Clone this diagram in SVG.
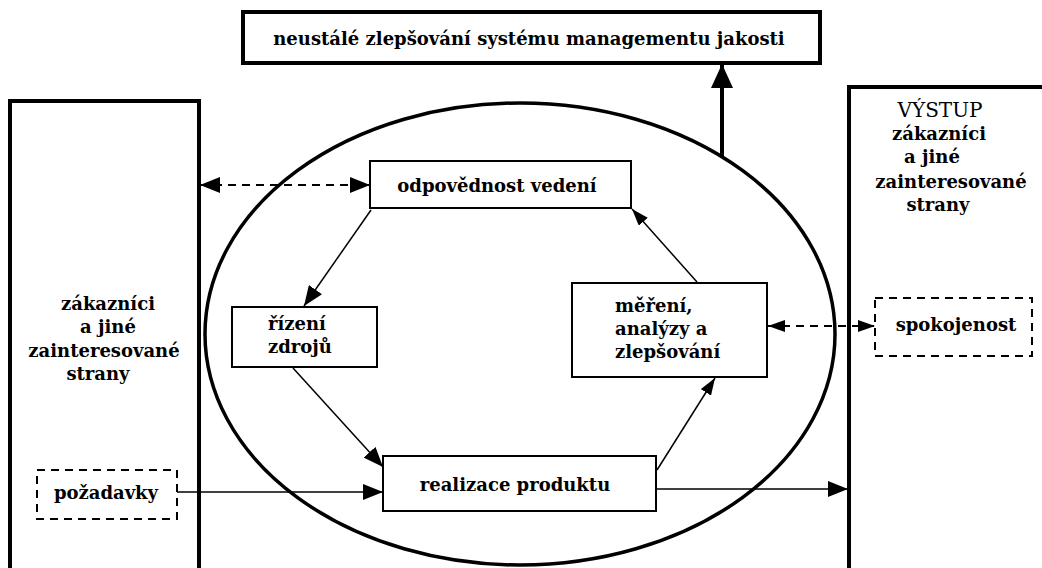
<svg xmlns="http://www.w3.org/2000/svg" width="1042" height="568" viewBox="0 0 1042 568">
<style>
  .t { font-family: "DejaVu Serif", "Liberation Serif", serif; font-weight: bold; font-size: 18px; fill: #000; }
  .c { text-anchor: middle; }
  .box { fill: #fff; stroke: #000; stroke-width: 2; }
  .thick { fill: #fff; stroke: #000; stroke-width: 4; }
  .dbox { fill: #fff; stroke: #000; stroke-width: 2; stroke-dasharray: 8 6; }
  .ln { fill: none; stroke: #000; stroke-width: 1.5; }
  .dl { fill: none; stroke: #000; stroke-width: 2; stroke-dasharray: 8 6; }
</style>
<defs>
  <marker id="ah" markerUnits="userSpaceOnUse" markerWidth="20" markerHeight="16" refX="20" refY="8" orient="auto-start-reverse" viewBox="0 0 20 16">
    <path d="M0,0 L20,8 L0,16 z" fill="#000"/>
  </marker>
  <marker id="ahs" markerUnits="userSpaceOnUse" markerWidth="17" markerHeight="12" refX="17" refY="6" orient="auto-start-reverse" viewBox="0 0 17 12">
    <path d="M0,0 L17,6 L0,12 z" fill="#000"/>
  </marker>
  <marker id="ahb" markerUnits="userSpaceOnUse" markerWidth="24" markerHeight="22" refX="24" refY="11" orient="auto" viewBox="0 0 24 22">
    <path d="M0,0 L24,11 L0,22 z" fill="#000"/>
  </marker>
</defs>
<rect width="1042" height="568" fill="#fff"/>

<g id="left-party">
  <rect class="thick" x="10" y="101" width="189" height="480"/>
  <text class="t c" x="108" y="310">zákazníci</text>
  <text class="t c" x="108" y="333">a jiné</text>
  <text class="t c" x="104" y="357">zainteresované</text>
  <text class="t c" x="98" y="380">strany</text>
</g>

<g id="right-party">
  <rect class="thick" x="849" y="87" width="210" height="500"/>
  <text class="t c" x="940" y="117" style="font-weight:normal;font-size:20px">VÝSTUP</text>
  <text class="t c" x="939" y="140">zákazníci</text>
  <text class="t c" x="932" y="163">a jiné</text>
  <text class="t c" x="951" y="188">zainteresované</text>
  <text class="t c" x="938" y="211">strany</text>
</g>

<g id="ellipse">
  <ellipse cx="520" cy="334" rx="315" ry="231" fill="none" stroke="#000" stroke-width="3.5"/>
</g>

<g id="top-box">
  <rect class="thick" x="243" y="12" width="577" height="51"/>
  <text class="t c" x="529" y="45">neustálé zlepšování systému managementu jakosti</text>
</g>

<g id="odpovednost">
  <rect class="box" x="370" y="161" width="261" height="47"/>
  <text class="t c" x="497" y="192">odpovědnost vedení</text>
</g>

<g id="rizeni">
  <rect class="box" x="232" y="307" width="145" height="60"/>
  <text class="t" x="268" y="330">řízení</text>
  <text class="t" x="268" y="353">zdrojů</text>
</g>

<g id="realizace">
  <rect class="box" x="383" y="456" width="273" height="55"/>
  <text class="t c" x="515" y="491">realizace produktu</text>
</g>

<g id="mereni">
  <rect class="box" x="572" y="283" width="195" height="94"/>
  <text class="t" x="615" y="312">měření,</text>
  <text class="t" x="615" y="335">analýzy a</text>
  <text class="t" x="615" y="358">zlepšování</text>
</g>

<g id="pozadavky">
  <rect class="dbox" x="37" y="470" width="140" height="49"/>
  <text class="t c" x="106" y="499">požadavky</text>
</g>

<g id="spokojenost">
  <rect class="dbox" x="875" y="298" width="157" height="58"/>
  <text class="t c" x="956" y="331">spokojenost</text>
</g>

<g id="connectors">
  <line x1="722" y1="157" x2="722" y2="64" stroke="#000" stroke-width="4" marker-end="url(#ahb)"/>
  <line class="dl" x1="200" y1="185" x2="370" y2="185" marker-start="url(#ah)" marker-end="url(#ah)"/>
  <line class="ln" x1="371" y1="210" x2="304" y2="306" marker-end="url(#ah)"/>
  <line class="ln" x1="293" y1="368" x2="383" y2="467" marker-end="url(#ah)"/>
  <line class="ln" x1="177" y1="492" x2="383" y2="492" marker-end="url(#ah)"/>
  <line class="ln" x1="657" y1="470" x2="715" y2="378" marker-end="url(#ahs)"/>
  <line class="ln" x1="697" y1="282" x2="632" y2="209" marker-end="url(#ahs)"/>
  <line class="dl" x1="768" y1="326" x2="875" y2="326" marker-start="url(#ahs)" marker-end="url(#ahs)"/>
  <line class="ln" x1="656" y1="489" x2="848" y2="489" marker-end="url(#ah)"/>
</g>
</svg>
